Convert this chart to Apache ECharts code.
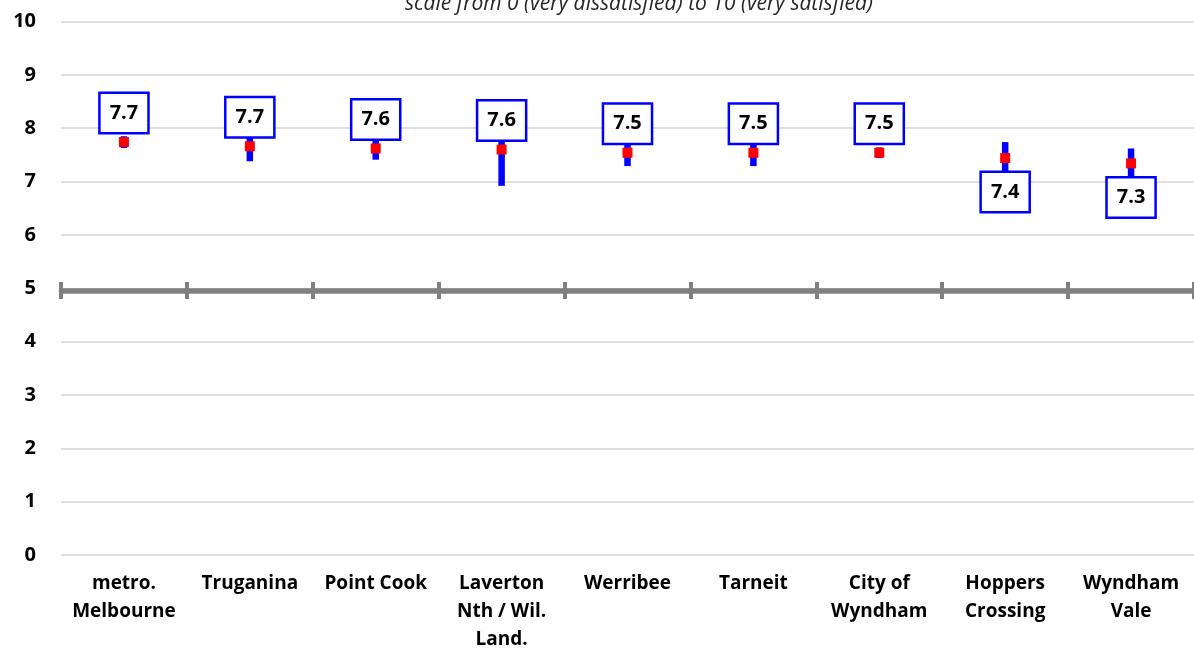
<!DOCTYPE html>
<html><head><meta charset="utf-8">
<script src="https://cdn.jsdelivr.net/npm/echarts@6/dist/echarts.min.js"></script>
<style>html,body{margin:0;padding:0;background:#fff}#c{width:1194px;height:654px}</style>
</head><body><div id="c"></div>
<script>
// ---- data ----
const categories = ['metro.\nMelbourne', 'Truganina', 'Point Cook', 'Laverton\nNth / Wil.\nLand.', 'Werribee', 'Tarneit', 'City of\nWyndham', 'Hoppers\nCrossing', 'Wyndham\nVale'];
const meanScores = [7.74, 7.66, 7.62, 7.60, 7.54, 7.54, 7.54, 7.44, 7.34];
const ciLower = [7.63, 7.38, 7.41, 6.92, 7.29, 7.29, 7.44, 7.18, 7.10];
const ciUpper = [7.85, 7.95, 7.76, 8.28, 7.80, 7.73, 7.64, 7.74, 7.62];
const yTickValues = [0, 1, 2, 3, 4, 5, 6, 7, 8, 9, 10];
const referenceLevel = 5;
const subtitleText = 'scale from 0 (very dissatisfied) to 10 (very satisfied)';

// ---- layout ----
const FONT = '"Open Sans", "Noto Sans", sans-serif';
const gridLeft = 61, gridTop = 21.5, gridWidth = 1142, gridHeight = 538;
const yMin = yTickValues[0], yMax = yTickValues[yTickValues.length - 1];
const yInterval = yTickValues[1] - yTickValues[0];
const refPix = gridTop + gridHeight * (yMax - referenceLevel) / (yMax - yMin);

const chart = echarts.init(document.getElementById('c'), null, {renderer: 'canvas'});

const option = {
  animation: false,
  backgroundColor: '#ffffff',
  graphic: [{
    type: 'text', x: 639, y: 4, z: 10,
    style: {text: subtitleText, fontFamily: FONT, fontSize: 21, fontStyle: 'italic', fill: '#262626', align: 'center', verticalAlign: 'middle'}
  }],
  grid: [
    {left: gridLeft, top: gridTop, width: gridWidth, height: gridHeight},
    {left: gridLeft, top: refPix - 0.5, width: gridWidth, height: 1}
  ],
  xAxis: [
    {
      type: 'category', gridIndex: 0, data: categories, boundaryGap: true,
      axisLine: {show: false}, axisTick: {show: false},
      axisLabel: {interval: 0, color: '#000', fontFamily: FONT, fontWeight: 'bold', fontSize: 19, lineHeight: 28, margin: 15}
    },
    {
      type: 'category', gridIndex: 1, data: categories, position: 'bottom', boundaryGap: true,
      axisLine: {show: true, lineStyle: {color: '#808080', width: 4.5}},
      axisTick: {show: true, length: 8, lineStyle: {color: '#808080', width: 4}},
      axisLabel: {show: false}
    },
    {
      type: 'category', gridIndex: 1, data: categories, position: 'top', boundaryGap: true,
      axisLine: {show: true, lineStyle: {color: '#808080', width: 4.5}},
      axisTick: {show: true, length: 8, lineStyle: {color: '#808080', width: 4}},
      axisLabel: {show: false}
    }
  ],
  yAxis: [
    {
      type: 'value', gridIndex: 0, min: yMin, max: yMax, interval: yInterval,
      axisLine: {show: false}, axisTick: {show: false},
      splitLine: {show: true, lineStyle: {color: '#d4d4d4', width: 1.5}},
      axisLabel: {color: '#000', fontFamily: FONT, fontWeight: 'bold', fontSize: 20, margin: 25}
    },
    {type: 'value', gridIndex: 1, min: 0, max: 1, show: false}
  ],
  series: [
    {
      type: 'custom', xAxisIndex: 0, yAxisIndex: 0, z: 2,
      data: categories.map((c, i) => [i, ciLower[i], ciUpper[i]]),
      encode: {x: 0, y: [1, 2]},
      renderItem: function (params, api) {
        const lo = api.coord([api.value(0), api.value(1)]);
        const hi = api.coord([api.value(0), api.value(2)]);
        return {type: 'rect', shape: {x: lo[0] - 3.25, y: hi[1], width: 6.5, height: lo[1] - hi[1]}, style: {fill: '#0000FF'}};
      }
    },
    {
      type: 'scatter', xAxisIndex: 0, yAxisIndex: 0, z: 3,
      symbol: 'rect', symbolSize: 10,
      itemStyle: {color: '#FF0000', opacity: 1},
      emphasis: {disabled: true},
      data: meanScores.map(v => ({
        value: v,
        label: {position: v < 7.5 ? 'bottom' : 'top', distance: v < 7.5 ? 10 : 5}
      })),
      label: {
        show: true,
        formatter: p => p.value.toFixed(1),
        color: '#000', fontFamily: FONT, fontWeight: 'bold', fontSize: 20, lineHeight: 20,
        backgroundColor: '#ffffff', borderColor: '#0000FF', borderWidth: 2.5, opacity: 1,
        padding: [9, 9, 9, 9]
      }
    }
  ]
};
chart.setOption(option);
</script>
</body></html>
